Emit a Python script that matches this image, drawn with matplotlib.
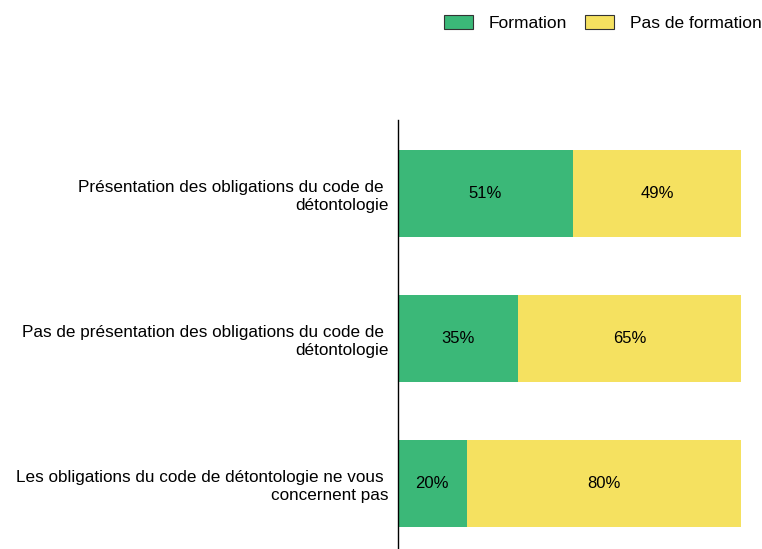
import matplotlib.pyplot as plt
from matplotlib.patches import Patch

plt.rcParams['font.family'] = ['Liberation Sans', 'DejaVu Sans']

# Donnees
categories = [
    "Présentation des obligations du code de \ndétontologie",
    "Pas de présentation des obligations du code de \ndétontologie",
    "Les obligations du code de détontologie ne vous \nconcernent pas",
]
formation = [51, 35, 20]
pas_formation = [49, 65, 80]
series_names = ["Formation", "Pas de formation"]
colors = ["#3bb878", "#f5e160"]

fig = plt.figure(figsize=(7.62, 5.49), dpi=100)
ax = fig.add_axes([398 / 762, 0, 343 / 762, 1 - 120 / 549])

y = list(range(len(categories)))
ax.barh(y, formation, height=0.6, color=colors[0])
ax.barh(y, pas_formation, left=formation, height=0.6, color=colors[1])

for i in y:
    ax.text(formation[i] / 2, i, f"{formation[i]}%", ha='center', va='center', fontsize=12)
    ax.text(formation[i] + pas_formation[i] / 2, i, f"{pas_formation[i]}%",
            ha='center', va='center', fontsize=12)

ax.set_xlim(0, 100)
ax.set_ylim(2.452, -0.507)
ax.set_yticks(y)
ax.set_yticklabels(categories, fontsize=12.3, linespacing=1.25)
ax.tick_params(axis='y', length=0, pad=7)
ax.set_xticks([])
for s in ['top', 'right', 'bottom']:
    ax.spines[s].set_visible(False)
ax.spines['left'].set_color('black')
ax.spines['left'].set_linewidth(1)

handles = [Patch(facecolor=c, edgecolor='#333333', linewidth=0.8) for c in colors]
fig.legend(handles, series_names, loc='center right', bbox_to_anchor=(1.0, 1 - 23 / 549),
           ncol=2, frameon=False, fontsize=12.5, handlelength=1.67, handleheight=0.92,
           columnspacing=1.05, handletextpad=0.92, borderaxespad=0, borderpad=0)

fig.savefig('out.png', dpi=100)
